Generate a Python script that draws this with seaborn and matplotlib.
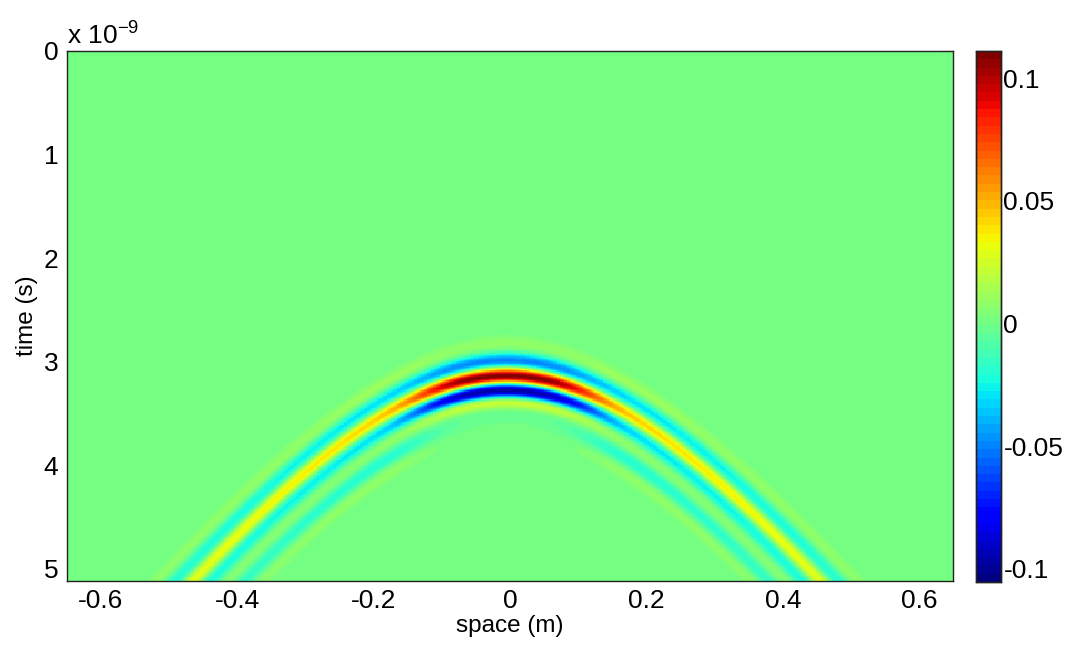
import numpy as np
import pandas as pd
import matplotlib
matplotlib.use("Agg")
import matplotlib.pyplot as plt
import seaborn as sns

# ---------------- data ----------------
space_range = [-0.65, 0.65]          # m
time_range = [0.0, 5.12]             # ns (axis shows x 10^-9 s)
x_ticks = [-0.6, -0.4, -0.2, 0.0, 0.2, 0.4, 0.6]
x_tick_labels = ['-0.6', '-0.4', '-0.2', '0', '0.2', '0.4', '0.6']
t_ticks = [0, 1, 2, 3, 4, 5]
t_tick_labels = ['0', '1', '2', '3', '4', '5']
cbar_ticks = [-0.1, -0.05, 0.0, 0.05, 0.1]
cbar_tick_labels = ['-0.1', '-0.05', '0', '0.05', '0.1']
color_limits = [-0.1053, 0.111]

# hyperbola
apex_x = -0.005          # m
apex_time = 3.14         # ns (centre of the red lobe)
velocity = 0.2275        # m/ns

# wavelet lobes at the apex (time offset in ns, amplitude)
apex_lobe_offsets = [-0.31, -0.145, 0.0, 0.14, 0.235, 0.33]
apex_lobe_amps = [0.009, -0.052, 0.116, -0.110, 0.038, -0.006]
# wavelet lobes far along the arms (t ~ 5.1 ns)
arm_lobe_offsets = [-0.28, -0.14, 0.0, 0.14, 0.28, 0.42, 0.56]
arm_lobe_amps = [0.008, -0.022, 0.031, -0.022, 0.006, -0.015, 0.006]
arm_reference_cos = 0.61
lobe_width = 0.055       # ns

# ---------------- build the field ----------------
nx, nt = 620, 420
xs = space_range[0] + (np.arange(nx) + 0.5) / nx * (space_range[1] - space_range[0])
ts = time_range[0] + (np.arange(nt) + 0.5) / nt * (time_range[1] - time_range[0])
X, T = np.meshgrid(xs, ts)
T_hyp = np.sqrt(apex_time ** 2 + (2 * (X - apex_x) / velocity) ** 2)
cos_t = apex_time / T_hyp
stretch = cos_t ** -0.5
tau = (T - T_hyp) / stretch


def lobes(offsets, amps):
    out = np.zeros_like(tau)
    for d, a in zip(offsets, amps):
        out += a * np.exp(-((tau - d) ** 2) / (2 * lobe_width ** 2))
    return out


w = np.exp(-((1 - cos_t) / 0.06) ** 2)
field = w * lobes(apex_lobe_offsets, apex_lobe_amps) + \
    (1 - w) * (cos_t / arm_reference_cos) * lobes(arm_lobe_offsets, arm_lobe_amps)
df = pd.DataFrame(field, index=np.round(ts, 4), columns=np.round(xs, 4))

# ---------------- draw ----------------
sns.set_style("white")
plt.rcParams['font.family'] = ['Liberation Sans', 'DejaVu Sans']
plt.rcParams['mathtext.default'] = 'regular'
for k in ['text.color', 'axes.labelcolor', 'xtick.color', 'ytick.color']:
    plt.rcParams[k] = 'black'

W, H = 1085, 652
fig = plt.figure(figsize=(W / 100, H / 100), dpi=100)
ax = fig.add_axes([66.7 / W, 1 - 581 / H, (953.3 - 66.7) / W, (581 - 51) / H])
cax = fig.add_axes([976 / W, 1 - 582 / H, (1000.7 - 976) / W, (582 - 51) / H])

cmap = plt.get_cmap('jet', 64)
sns.heatmap(df, ax=ax, cbar_ax=cax, cmap=cmap, vmin=color_limits[0], vmax=color_limits[1],
            xticklabels=False, yticklabels=False, rasterized=True,
            cbar_kws={'ticks': cbar_ticks})

xpos = [(v - space_range[0]) / (space_range[1] - space_range[0]) * nx for v in x_ticks]
tpos = [(v - time_range[0]) / (time_range[1] - time_range[0]) * nt for v in t_ticks]
ax.set_xticks(xpos)
ax.set_xticklabels(x_tick_labels, fontsize=19)
ax.set_yticks(tpos)
ax.set_yticklabels(t_tick_labels, fontsize=19, rotation=0)
ax.tick_params(direction='in', length=9, width=0.8, color='#222222',
               top=True, right=True, bottom=True, left=True, pad=6)
for s in ax.spines.values():
    s.set_visible(True)
    s.set_color('#222222')
    s.set_linewidth(1.0)

ax.set_xlabel('space (m)', fontsize=17.5, labelpad=1.5)
ax.set_ylabel('time (s)', fontsize=17.5, labelpad=4)
ax.annotate(r'x 10$^{-9}$', xy=(0, 1), xycoords='axes fraction', xytext=(0, 6),
            textcoords='offset pixels', ha='left', va='baseline', fontsize=19)

cax.set_yticklabels(cbar_tick_labels, fontsize=19)
cax.tick_params(direction='in', length=5, width=0.8, left=True, right=True,
                labelleft=False, labelright=True, pad=2, color='#222222')
for s in cax.spines.values():
    s.set_visible(True)
    s.set_color('#222222')
    s.set_linewidth(1.0)

fig.savefig('out.png', dpi=100)
